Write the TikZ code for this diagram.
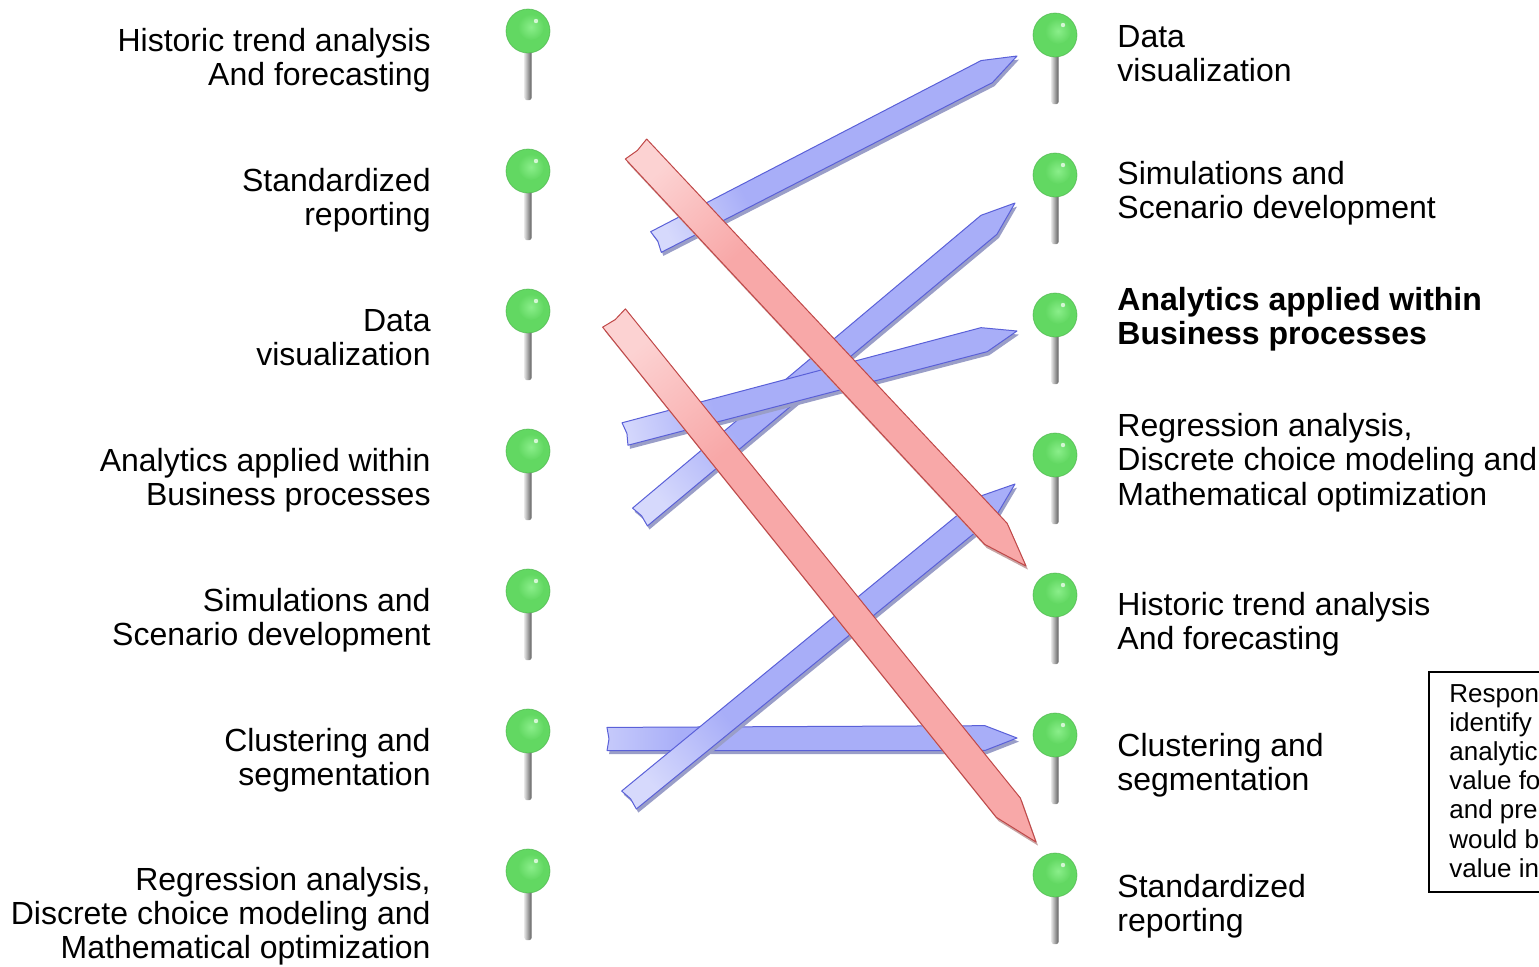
\documentclass[tikz,border=0pt]{standalone}
\usepackage{fontspec}
\setmainfont{Liberation Sans}
\usetikzlibrary{calc}
\definecolor{barrmain}{HTML}{A8AEF8}
\definecolor{barrlight}{HTML}{D6D9FC}
\definecolor{barredge}{HTML}{5A60D8}
\definecolor{barrshadow}{HTML}{9A9EC8}
\definecolor{rarrmain}{HTML}{F8A8A8}
\definecolor{rarrlight}{HTML}{FCD2D2}
\definecolor{rarredge}{HTML}{C04848}
\definecolor{rarrshadow}{HTML}{C8A4A4}
\definecolor{pingreen}{HTML}{62D862}
\definecolor{pinlight}{HTML}{8AEE8A}
\definecolor{pinrim}{HTML}{48B048}
\pgfdeclarehorizontalshading{barrshade}{100bp}{color(0bp)=(barrlight); color(20bp)=(barrlight); color(34bp)=(barrmain); color(100bp)=(barrmain)}
\pgfdeclarehorizontalshading{rarrshade}{100bp}{color(0bp)=(rarrlight); color(20bp)=(rarrlight); color(34bp)=(rarrmain); color(100bp)=(rarrmain)}
\newcommand\rlines[1]{\begin{tabular}[t]{@{}r@{}}#1\end{tabular}}
\newcommand\llines[1]{\begin{tabular}[t]{@{}l@{}}#1\end{tabular}}
% #1 tail, #2 tip, #3 half width, #4 head length, #5 kind (b/r), #6 shading angle
\newcommand\fatarrow[6]{%
  \coordinate (#1hb) at ($(#2)!#4!(#1)$);
  \coordinate (#1tl) at ($(#1)!#3!90:(#2)$);
  \coordinate (#1tr) at ($(#1)!#3!-90:(#2)$);
  \coordinate (#1hl) at ($(#1hb)!#3+0.4pt!-90:(#1)$);
  \coordinate (#1hr) at ($(#1hb)!#3+0.4pt!90:(#1)$);
  \coordinate (#1tn) at ($(#1)!1pt!(#2)$);
  \begin{scope}[transform canvas={xshift=1pt,yshift=-1.8pt}]
    \fill[#5arrshadow] (#1tl) -- (#1hl) -- (#2) -- (#1hr) -- (#1tr) -- (#1tn) -- cycle;
  \end{scope}
  \shade[shading=#5arrshade, shading angle=#6, draw=#5arredge, line width=0.5pt, line join=round]
    (#1tl) -- (#1hl) -- (#2) -- (#1hr) -- (#1tr) -- (#1tn) -- cycle;
}
\newcommand\drawpin[2]{%
  \shade[left color=gray!25, right color=gray!75!black, rounded corners=1pt]
    (#1-3.5,#2+10) rectangle (#1+3.5,#2+69);
  \fill[pingreen] (#1,#2) circle (11pt);
  \shade[inner color=pinlight, outer color=pingreen] (#1+3,#2-4) circle (6.5pt);
  \draw[pinrim, line width=0.4pt, opacity=0.6] (#1,#2) circle (11pt);
  \fill[white, opacity=0.7] (#1+8,#2-10) circle (1.1pt);
}
\tikzset{
  labfont/.style={font=\fontsize{16pt}{17.2pt}\selectfont},
  lft/.style={labfont, anchor=base east, inner sep=0pt},
  rgt/.style={labfont, anchor=base west, inner sep=0pt},
}
\begin{document}
\begin{tikzpicture}[x=0.5pt, y=-0.5pt]
\useasboundingbox (0,0) rectangle (1539,966);
\begin{scope}
\clip (0,0) rectangle (1539,966);
% pins
\foreach \k in {0,...,6} {
  \drawpin{528}{31+140*\k}
  \drawpin{1055}{35+140*\k}
}
% left labels
\node[lft] (l1) at (431,51.5) {\rlines{Historic trend analysis\\And forecasting}};
\node[lft] (l2) at (431,191.5) {\rlines{Standardized\\reporting}};
\node[lft] (l3) at (431,331.5) {\rlines{Data\\visualization}};
\node[lft] (l4) at (431,471.5) {\rlines{Analytics applied within\\Business processes}};
\node[lft] (l5) at (431,611.5) {\rlines{Simulations and\\Scenario development}};
\node[lft] (l6) at (431,751.5) {\rlines{Clustering and\\segmentation}};
\node[lft] (l7) at (431,890) {\rlines{Regression analysis,\\Discrete choice modeling and\\Mathematical optimization}};
% right labels
\node[rgt] (r1) at (1117,47.5) {\llines{Data\\visualization}};
\node[rgt] (r2) at (1117,184.5) {\llines{Simulations and\\Scenario development}};
\node[rgt] (r3) at (1117,310.5) {\llines{\bfseries Analytics applied within\\\bfseries Business processes}};
\node[rgt] (r4) at (1117,436.5) {\llines{Regression analysis,\\Discrete choice modeling and\\Mathematical optimization}};
\node[rgt] (r5) at (1117,615.5) {\llines{Historic trend analysis\\And forecasting}};
\node[rgt] (r6) at (1117,756.5) {\llines{Clustering and\\segmentation}};
\node[rgt] (r7) at (1117,897.5) {\llines{Standardized\\reporting}};
% arrow end points
\coordinate (bAs) at (656,242);  \coordinate (bAe) at (1017,56);
\coordinate (bBs) at (640,517);  \coordinate (bBe) at (1015,203);
\coordinate (bCs) at (625,434);  \coordinate (bCe) at (1017,331);
\coordinate (bDs) at (607,739);  \coordinate (bDe) at (1017,738);
\coordinate (bEs) at (629,800);  \coordinate (bEe) at (1015,484);
\coordinate (rAs) at (636,149);  \coordinate (rAe) at (1026,566);
\coordinate (rBs) at (614,318);  \coordinate (rBe) at (1036,842);
\fatarrow{bDs}{bDe}{5.8pt}{16pt}{b}{0}
\fatarrow{bEs}{bEe}{5.8pt}{17pt}{b}{39.3}
\fatarrow{bBs}{bBe}{5.8pt}{17pt}{b}{39.9}
\fatarrow{bCs}{bCe}{5.8pt}{17pt}{b}{14.7}
\fatarrow{bAs}{bAe}{5.8pt}{17pt}{b}{27.3}
\fatarrow{rAs}{rAe}{7.3pt}{22pt}{r}{-46.9}
\fatarrow{rBs}{rBe}{7.3pt}{22pt}{r}{-51.1}
% note box
\node[draw, line width=0.8pt, anchor=north west, minimum width=100pt, minimum height=110pt, inner sep=0pt] (note) at (1428,671) {};
\node[anchor=base west, inner sep=0pt, font=\fontsize{13pt}{14.6pt}\selectfont] (notetext) at (1449,702)
  {\llines{Respon\\identify\\analytic\\value fo\\and pre\\would b\\value in}};
\end{scope}
\end{tikzpicture}
\end{document}
